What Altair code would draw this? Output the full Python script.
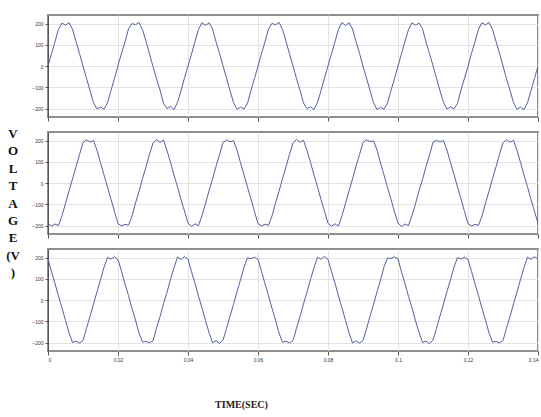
import altair as alt
import numpy as np
import pandas as pd

# sample times in milliseconds (1 ms grid, 0 .. 140 ms)
time_ms = list(range(0, 141))

phase_a = [
    0, 58, 115, 173, 202, 192, 204, 173, 115, 58, 0, -58, -115, -173, -202, -192, -204, -173, -115, -58,
    2, 60, 113, 175, 200, 194, 205, 171, 117, 56, -2, -60, -113, -175, -200, -190, -205, -171, -117, -56,
    0, 56, 116, 172, 204, 191, 203, 175, 114, 59, 1, -56, -116, -172, -204, -193, -203, -175, -114, -59,
    -1, 59, 114, 174, 201, 193, 206, 172, 116, 57, 0, -59, -114, -174, -201, -191, -206, -172, -116, -57,
    1, 57, 115, 173, 205, 190, 204, 174, 115, 60, -1, -57, -115, -173, -205, -194, -204, -174, -115, -60,
    0, 58, 117, 171, 203, 192, 202, 176, 113, 58, 2, -58, -117, -171, -203, -192, -202, -176, -113, -58,
    -2, 60, 114, 173, 204, 193, 205, 173, 116, 59, 0, -60, -114, -173, -204, -193, -205, -173, -116, -59,
    0,
]

phase_b = [
    -190, -203, -193, -200, -154, -96, -38, 19, 77, 134, 190, 203, 193, 200, 154, 96, 38, -19, -77, -134,
    -192, -201, -195, -198, -156, -94, -40, 21, 75, 136, 188, 204, 191, 202, 152, 98, 36, -17, -79, -132,
    -189, -204, -192, -201, -153, -97, -37, 18, 78, 133, 191, 202, 194, 199, 155, 95, 39, -20, -76, -135,
    -191, -202, -194, -199, -155, -95, -39, 20, 76, 135, 189, 205, 192, 201, 153, 97, 37, -18, -78, -133,
    -190, -203, -192, -202, -154, -96, -38, 19, 79, 134, 190, 203, 195, 198, 156, 94, 38, -21, -77, -136,
    -188, -205, -193, -200, -152, -98, -36, 17, 77, 132, 192, 201, 193, 200, 154, 96, 40, -19, -75, -134,
    -191, -202, -195, -199, -155, -95, -39, 20, 76, 135, 189, 204, 192, 201, 153, 97, 37, -18, -78, -133,
    -190,
]

phase_c = [
    192, 134, 77, 19, -38, -96, -154, -200, -193, -203, -190, -134, -77, -19, 38, 96, 154, 200, 193, 203,
    190, 136, 75, 21, -40, -94, -156, -198, -195, -201, -192, -132, -79, -17, 36, 98, 152, 202, 191, 204,
    193, 133, 78, 18, -37, -97, -153, -201, -192, -204, -189, -135, -76, -20, 39, 95, 155, 199, 194, 202,
    191, 135, 76, 20, -39, -95, -155, -199, -194, -202, -191, -133, -78, -18, 37, 97, 153, 201, 192, 205,
    192, 134, 79, 19, -38, -96, -154, -202, -192, -203, -190, -136, -77, -21, 38, 94, 156, 198, 195, 203,
    194, 132, 77, 17, -36, -98, -152, -200, -193, -205, -188, -134, -75, -19, 40, 96, 154, 200, 193, 201,
    191, 135, 76, 20, -39, -95, -155, -199, -195, -202, -191, -133, -78, -18, 37, 97, 153, 201, 192, 204,
    192,
]

y_ticks = [-200, -100, 0, 100, 200]
x_ticks = [0, 0.02, 0.04, 0.06, 0.08, 0.1, 0.12, 0.14]
y_label_letters = ["V", "O", "L", "T", "A", "G", "E", "(V", ")"]
x_title = "TIME(SEC)"

LINE_COLOR = "#55609c"
W, H = 490, 102


def panel(values, bottom=False, with_label=False):
    df = pd.DataFrame({"t": np.array(time_ms) / 1000.0, "v": values})
    x_axis = alt.Axis(
        values=x_ticks,
        format="~g",
        labels=bottom,
        labelFontSize=5,
        labelColor="#333",
        tickSize=4,
        tickColor="#555",
        domain=False,
        grid=True,
        gridColor="#e2e2e2",
        title=x_title if bottom else None,
        titleFont="Liberation Serif",
        titleFontSize=10,
        titleFontWeight="bold",
        titleColor="#222",
        titleX=193,
        titleY=48,
        titleAlign="center",
    )
    y_axis = alt.Axis(
        values=y_ticks,
        labelFontSize=5,
        labelColor="#333",
        tickSize=3,
        tickColor="#555",
        domainColor="#555",
        grid=True,
        gridColor="#e2e2e2",
        title=None,
    )
    line = alt.Chart(df).mark_line(color=LINE_COLOR, strokeWidth=1, clip=True).encode(
        x=alt.X("t:Q", scale=alt.Scale(domain=[0, 0.14], nice=False), axis=x_axis),
        y=alt.Y("v:Q", scale=alt.Scale(domain=[-240, 240], nice=False), axis=y_axis),
    )
    layers = [line]
    if with_label:
        lab = alt.Chart(pd.DataFrame({"k": [0]})).mark_text(
            font="Liberation Serif",
            fontSize=13,
            fontWeight="bold",
            color="#111",
            align="center",
            baseline="alphabetic",
            lineHeight=17.4,
            lineBreak="\n",
        ).encode(
            x=alt.value(-35),
            y=alt.value(6),
            text=alt.value("\n".join(y_label_letters)),
        )
        layers.append(lab)
    return alt.layer(*layers).properties(width=W, height=H)


chart = alt.vconcat(
    panel(phase_a),
    panel(phase_b, with_label=True),
    panel(phase_c, bottom=True),
    spacing=15,
    bounds="flush",
).properties(
    padding={"left": 5, "top": 14, "right": 0, "bottom": 0},
    background="white",
).configure_view(
    stroke="#8f8f8f",
    strokeWidth=2,
)

chart.save("out.html", embed_options={"renderer": "svg", "actions": False})
